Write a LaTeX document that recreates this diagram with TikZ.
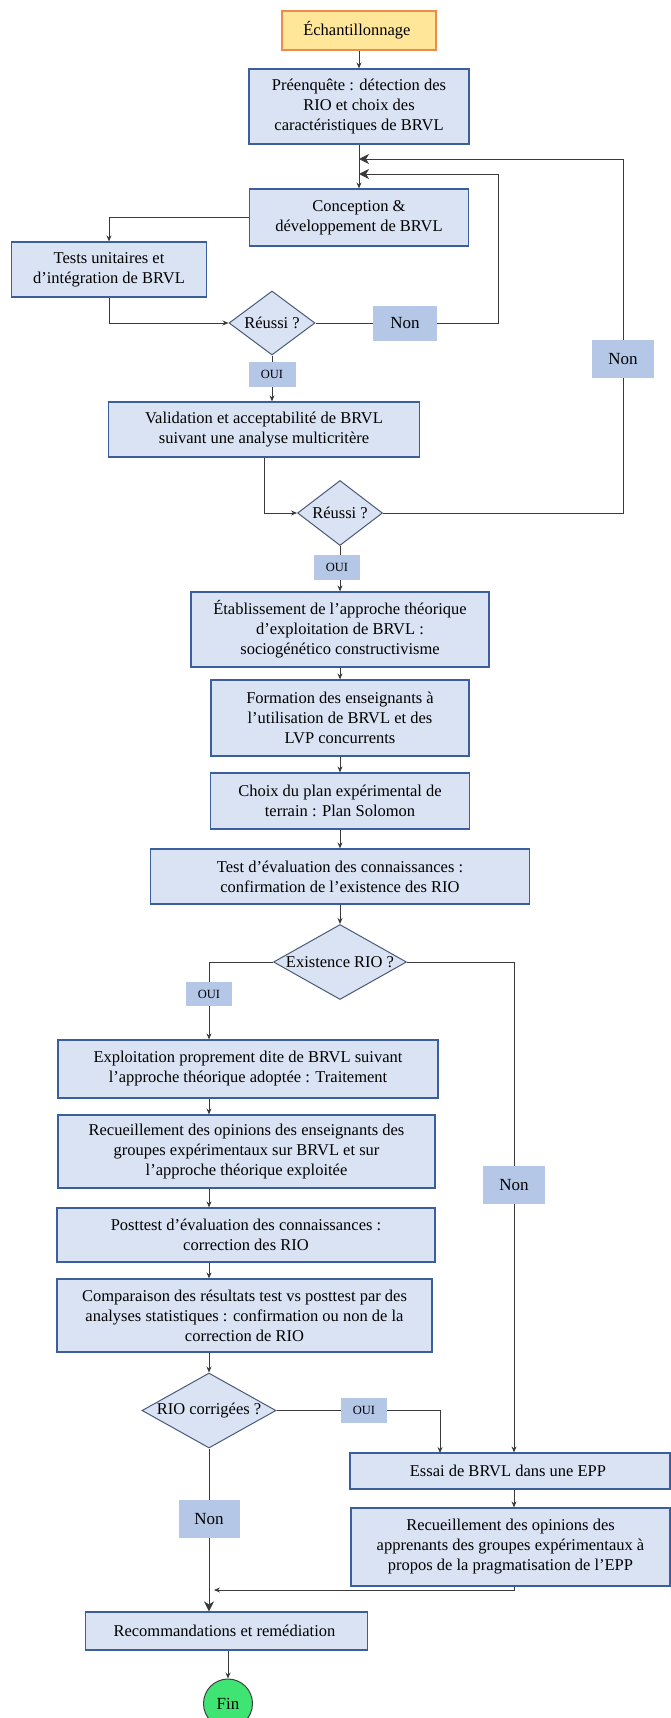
\documentclass[tikz,border=0pt]{standalone}
\usepackage{fontspec}
\setmainfont{Liberation Serif}
\usetikzlibrary{shapes.geometric,arrows.meta}
\definecolor{caixa}{HTML}{DAE3F3}
\definecolor{borda}{HTML}{3B5E9C}
\definecolor{bordad}{HTML}{4A5A78}
\definecolor{rotfundo}{HTML}{B4C7E7}
\definecolor{amarelo}{HTML}{FFE699}
\definecolor{laranja}{HTML}{EE8A4E}
\definecolor{verde}{HTML}{3FE572}
\definecolor{linha}{HTML}{3A3A3A}

\begin{document}
        \begin{tikzpicture}[x=1pt, y=-1pt,
                etapa/.style={draw=borda, fill=caixa, line width=1.2pt, align=center, inner sep=2pt, font=\fontsize{16.5}{20}\selectfont},
                decisao/.style={diamond, draw=bordad, fill=caixa, line width=1pt, inner sep=0pt, font=\fontsize{16.5}{20}\selectfont},
                rotulo/.style={fill=rotfundo, inner sep=0pt, font=\fontsize{17}{20}\selectfont},
                rotpeq/.style={rotulo, font=\fontsize{12.5}{14}\selectfont},
                liga/.style={draw=linha, line width=0.8pt},
                seta/.style={liga, -{Stealth[length=6pt,width=5pt,inset=2pt]}},
                setagrande/.style={liga, -{Stealth[length=10pt,width=10pt,inset=3pt]}}]
            \useasboundingbox (0,0) rectangle (670,1718);

            \node[etapa, fill=amarelo, draw=laranja, minimum width=154pt, minimum height=39pt] (echant) at (359,30.5) { Échantillonnage };
            \node[etapa, minimum width=220pt, minimum height=75pt] (preenq) at (359,106.5) { Préenquête : détection des \\ RIO et choix des \\ caractéristiques de BRVL };
            \node[etapa, minimum width=219pt, minimum height=57pt] (concep) at (359,217.5) { Conception \& \\ développement de BRVL };
            \node[etapa, minimum width=195pt, minimum height=55pt] (tests) at (109,269.5) { Tests unitaires et \\ d’intégration de BRVL };
            \node[decisao, minimum width=86pt, minimum height=64pt] (reussiA) at (272,323) { \makebox[0pt]{Réussi ?} };
            \node[rotulo, minimum width=64pt, minimum height=35pt] (nonA) at (405,323) { Non };
            \node[rotpeq, minimum width=47pt, minimum height=25pt] (ouiA) at (272,374.5) { OUI };
            \node[etapa, minimum width=311pt, minimum height=55pt] (valid) at (264,429.5) { Validation et acceptabilité de BRVL \\ suivant une analyse multicritère };
            \node[decisao, minimum width=85pt, minimum height=65pt] (reussiB) at (340,513) { \makebox[0pt]{Réussi ?} };
            \node[rotulo, minimum width=62pt, minimum height=38pt] (nonB) at (623,359) { Non };
            \node[rotpeq, minimum width=46pt, minimum height=25pt] (ouiB) at (337,567.5) { OUI };
            \node[etapa, minimum width=298pt, minimum height=75pt] (etabl) at (340,629.5) { Établissement de l’approche théorique \\ d’exploitation de BRVL : \\ sociogénético constructivisme };
            \node[etapa, minimum width=258pt, minimum height=76pt] (form) at (340,718) { Formation des enseignants à \\ l’utilisation de BRVL et des \\ LVP concurrents };
            \node[etapa, minimum width=259pt, minimum height=56pt] (choix) at (340,801) { Choix du plan expérimental de \\ terrain : Plan Solomon };
            \node[etapa, minimum width=379pt, minimum height=55pt] (testeval) at (340,876.5) { Test d’évaluation des connaissances : \\ confirmation de l’existence des RIO };
            \node[decisao, minimum width=133pt, minimum height=75pt] (exist) at (340,962) { \makebox[0pt]{Existence RIO ?} };
            \node[rotpeq, minimum width=46pt, minimum height=24pt] (ouiC) at (209,994) { OUI };
            \node[rotulo, minimum width=62pt, minimum height=38pt] (nonC) at (514,1185) { Non };
            \node[etapa, minimum width=380pt, minimum height=58pt] (exploit) at (248,1069) { Exploitation proprement dite de BRVL suivant \\ l’approche théorique adoptée : Traitement };
            \node[etapa, minimum width=377pt, minimum height=73pt] (recueilA) at (246.5,1151.5) { Recueillement des opinions des enseignants des \\ groupes expérimentaux sur BRVL et sur \\ l’approche théorique exploitée };
            \node[etapa, minimum width=378pt, minimum height=54pt] (posttest) at (246,1235) { Posttest d’évaluation des connaissances : \\ correction des RIO };
            \node[etapa, minimum width=375pt, minimum height=73pt] (compar) at (244.5,1315.5) { Comparaison des résultats test vs posttest par des \\ analyses statistiques : confirmation ou non de la \\ correction de RIO };
            \node[decisao, minimum width=134pt, minimum height=75pt] (corrig) at (209,1410.5) { \makebox[0pt]{RIO corrigées ?} };
            \node[rotpeq, minimum width=46pt, minimum height=25pt] (ouiD) at (364,1410.5) { OUI };
            \node[etapa, minimum width=320pt, minimum height=36pt] (essai) at (510,1471) { Essai de BRVL dans une EPP };
            \node[etapa, minimum width=319pt, minimum height=78pt] (recueilB) at (510.5,1547) { Recueillement des opinions des \\ apprenants des groupes expérimentaux à \\ propos de la pragmatisation de l’EPP };
            \node[rotulo, minimum width=61pt, minimum height=38pt] (nonD) at (209,1519) { Non };
            \node[etapa, minimum width=282pt, minimum height=38pt] (recom) at (226.5,1631) { Recommandations et remédiation };
            \node[circle, draw=black!75, fill=verde, line width=1pt, inner sep=0pt, minimum size=49pt, font=\fontsize{17}{20}\selectfont] (fin) at (228,1703.5) { Fin };

            \coordinate (jonctA) at (359,174);
            \coordinate (jonctB) at (359,159);
            \coordinate (coinA) at (498,174);
            \coordinate (entreeE) at (440,1453);
            \coordinate (jonctC) at (214,1590);

            \draw[seta] (echant) -- (preenq);
            \draw[seta] (preenq) -- (concep);
            \draw[seta] (concep.west) -| (tests.north);
            \draw[seta] (tests.south) |- (reussiA.west);
            \draw[liga] (reussiA) -- (nonA);
            \draw[setagrande] (nonA.east) -| (coinA) -- (jonctA);
            \draw[liga] (reussiA) -- (ouiA);
            \draw[seta] (ouiA) -- (ouiA |- valid.north);
            \draw[seta] (valid.south) |- (reussiB.west);
            \draw[liga] (reussiB.east) -| (nonB.south);
            \draw[setagrande] (nonB.north) |- (jonctB);
            \draw[liga] (reussiB) -- (reussiB |- ouiB.north);
            \draw[seta] (reussiB |- ouiB.south) -- (etabl);
            \draw[seta] (etabl) -- (form);
            \draw[seta] (form) -- (choix);
            \draw[seta] (choix) -- (testeval);
            \draw[seta] (testeval) -- (exist);
            \draw[liga] (exist.west) -| (ouiC.north);
            \draw[seta] (ouiC) -- (ouiC |- exploit.north);
            \draw[liga] (exist.east) -| (nonC.north);
            \draw[seta] (nonC) -- (nonC |- essai.north);
            \draw[seta] (exploit.south -| corrig) -- (recueilA.north -| corrig);
            \draw[seta] (recueilA.south -| corrig) -- (posttest.north -| corrig);
            \draw[seta] (posttest.south -| corrig) -- (compar.north -| corrig);
            \draw[seta] (compar.south -| corrig) -- (corrig);
            \draw[liga] (corrig) -- (ouiD);
            \draw[seta] (ouiD.east) -| (entreeE);
            \draw[seta] (essai.south -| nonC) -- (recueilB.north -| nonC);
            \draw[seta] (recueilB.south -| nonC) |- (jonctC);
            \draw[liga] (corrig) -- (nonD);
            \draw[setagrande] (nonD) -- (nonD |- recom.north);
            \draw[seta] (recom.south -| fin) -- (fin);
        \end{tikzpicture}
\end{document}
